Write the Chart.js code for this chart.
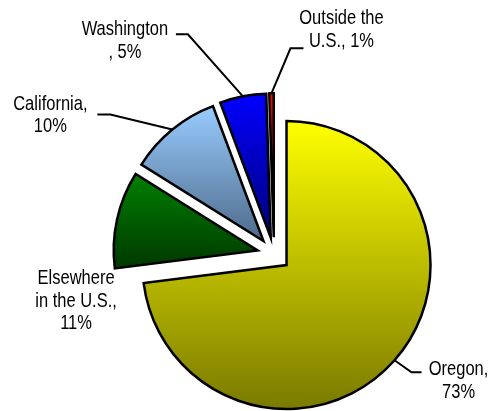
<!DOCTYPE html>
<html>
<head>
<meta charset="utf-8">
<script src="https://cdn.jsdelivr.net/npm/chart.js@4.4.1/dist/chart.umd.min.js"></script>
<style>
  html, body { margin: 0; padding: 0; background: #fff; }
  #wrap { width: 493px; height: 411px; }
</style>
</head>
<body>
<div id="wrap"><canvas id="pieChart"></canvas></div>
<script>
const categories = ["Oregon", "Elsewhere in the U.S.", "California", "Washington", "Outside the U.S."];
// slice sizes (labels show them rounded)
const shares = [73.0, 10.9, 10.4, 5.2, 0.5];
const labelLines = [
  ["Oregon,", "73%"],
  ["Elsewhere", "in the U.S.,", "11%"],
  ["California,", "10%"],
  ["Washington", ", 5%"],
  ["Outside the", "U.S., 1%"],
];
const topColors = ["#ffff00", "#008000", "#99ccff", "#0000ff", "#ff0000"];
const bottomColors = ["#7a7a00", "#003800", "#4d6a8a", "#00007a", "#800000"];

// label placement, relative to the outer middle point of each slice
const labelPos = [
  { elbow: [17, 12], end: [27, 12], text: [64, 15] },
  { elbow: null, end: null, text: [-41, 65] },
  { elbow: [-62, -15], end: [-75, -15], text: [-122, -20] },
  { elbow: [-55, -62], end: [-67, -62], text: [-118, -61] },
  { elbow: [19, -45], end: [32, -45], text: [70, -69] },
];

const explodeDist = 16.7;

// pull every slice out along its middle angle, then give it a vertical gradient
const explodePlugin = {
  id: "explode",
  afterDatasetUpdate(chart, args) {
    args.meta.data.forEach((arc, i) => {
      const mid = (arc.startAngle + arc.endAngle) / 2;
      arc.x += Math.cos(mid) * explodeDist;
      arc.y += Math.sin(mid) * explodeDist;

      let top = arc.y,
        bottom = arc.y;
      for (let k = 0; k <= 60; k++) {
        const a = arc.startAngle + ((arc.endAngle - arc.startAngle) * k) / 60;
        const y = arc.y + Math.sin(a) * arc.outerRadius;
        top = Math.min(top, y);
        bottom = Math.max(bottom, y);
      }
      const g = chart.ctx.createLinearGradient(0, top, 0, bottom);
      g.addColorStop(0, topColors[i]);
      g.addColorStop(1, bottomColors[i]);
      arc.options.backgroundColor = g;
    });
  },
};

const labelPlugin = {
  id: "sliceLabels",
  afterDatasetsDraw(chart) {
    const ctx = chart.ctx;
    const arcs = chart.getDatasetMeta(0).data;
    ctx.save();
    ctx.strokeStyle = "#000";
    ctx.fillStyle = "#000";
    ctx.lineWidth = 2;
    ctx.font = '16.5px "Liberation Sans", Arial, sans-serif';
    ctx.textAlign = "center";
    ctx.textBaseline = "alphabetic";

    arcs.forEach((arc, i) => {
      const mid = (arc.startAngle + arc.endAngle) / 2;
      const ax = arc.x + Math.cos(mid) * arc.outerRadius;
      const ay = arc.y + Math.sin(mid) * arc.outerRadius;
      const p = labelPos[i];

      if (p.elbow) {
        ctx.beginPath();
        ctx.moveTo(ax, ay);
        ctx.lineTo(ax + p.elbow[0], ay + p.elbow[1]);
        ctx.lineTo(ax + p.end[0], ay + p.end[1]);
        ctx.stroke();
      }

      labelLines[i].forEach((line, j) => {
        ctx.save();
        ctx.translate(ax + p.text[0], ay + p.text[1] + j * 22.5);
        ctx.scale(1, 1.27);
        ctx.fillText(line, 0, 0);
        ctx.restore();
      });
    });
    ctx.restore();
  },
};

new Chart(document.getElementById("pieChart"), {
  type: "pie",
  data: {
    labels: categories,
    datasets: [
      {
        data: shares,
        backgroundColor: topColors,
        borderColor: "#000",
        borderWidth: 2.5,
        borderJoinStyle: "miter",
        radius: 144,
      },
    ],
  },
  options: {
    responsive: true,
    maintainAspectRatio: false,
    animation: false,
    layout: {
      padding: { left: 60, right: 5, top: 100, bottom: 3 },
    },
    plugins: {
      legend: { display: false },
      tooltip: { enabled: false },
    },
  },
  plugins: [explodePlugin, labelPlugin],
});
</script>
</body>
</html>
